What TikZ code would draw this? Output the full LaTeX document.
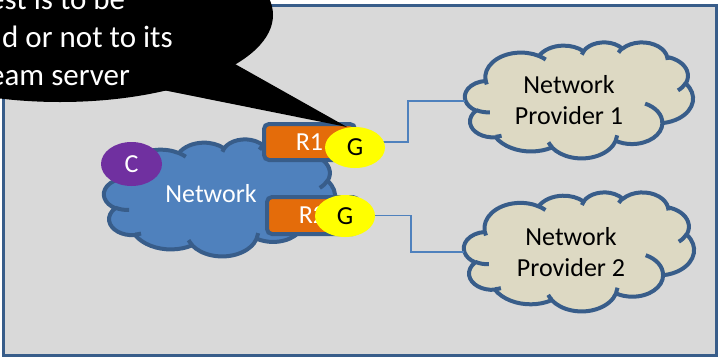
\documentclass[tikz,border=0pt]{standalone}
\usepackage{fontspec}
\setmainfont{Carlito}
\usetikzlibrary{shapes.geometric}
\definecolor{bgfill}{HTML}{D9D9D9}
\definecolor{bord}{HTML}{385D8A}
\definecolor{netblue}{HTML}{4F81BD}
\definecolor{beige}{HTML}{DDD9C3}
\definecolor{orng}{HTML}{E46C0A}
\definecolor{purp}{HTML}{7030A0}
\definecolor{yell}{HTML}{FFFF00}
\pgfmathdeclarefunction{vistopar}{3}{%
  \begingroup\pgfmathparse{atan2((#1)*sin(#3),(#2)*cos(#3))}\pgfmathsmuggle\pgfmathresult\endgroup}
% Office-style cloud: #1 left, #2 top, #3 width, #4 height, #5 style
\newcommand\officecloud[5]{%
  \pgfmathsetmacro\ocx{#3/100}%
  \pgfmathsetmacro\ocy{#4/100}%
  \draw[#5] ({#1+9.028*\ocx},{#2+33.264*\ocy})
    \foreach \rwa/\rha/\sta/\swa in {15.632/21.273/-190.4875/123.7805,
      12.345/16.822/-144.1024/89.9452, 10.104/13.762/-145.8079/99.7230,
      11.243/15.266/-130.9861/117.2417, 12.345/16.836/-78.7089/109.0269,
      15.683/21.343/-46.2673/130.2690, 13.391/18.211/0.6250/114.0333,
      15.630/21.331/22.4516/115.1726, 17.870/24.405/66.2426/75.7110,
      10.093/13.699/-274.9421/146.7356, 10.058/13.762/-246.8285/152.5189}{
      arc[start angle={-vistopar(\rwa,\rha,\sta)},
          delta angle={-mod(vistopar(\rwa,\rha,\sta+\swa)-vistopar(\rwa,\rha,\sta)+720,360)},
          x radius={\rwa*\ocx*1pt}, y radius={\rha*\ocy*1pt}]
    } -- cycle;
  \draw[#5, fill=none]
    \foreach \pxa/\pya/\rwa/\rha/\sta/\swa in {10.863/60.595/10.058/13.762/86.742/26.4295,
      16.037/80.785/10.093/13.699/73.6105/11.4475,
      38.144/90.486/15.630/21.331/137.6242/14.0811,
      66.729/80.442/15.630/21.331/6.4533/15.9984,
      79.002/53.134/13.391/18.211/-70.2924/70.9174,
      96.755/35.542/12.345/16.836/30.3180/27.7515,
      88.713/12.560/11.243/15.266/-13.7443/14.8589,
      67.310/9.148/11.243/15.266/-149.1815/18.1954,
      51.252/10.926/10.104/13.762/-163.4943/17.6864,
      32.407/12.019/15.632/21.273/-66.7070/12.3194,
      9.553/36.549/15.632/21.273/157.6544/11.8539}{
      ({#1+\pxa*\ocx},{#2+\pya*\ocy})
      arc[start angle={-vistopar(\rwa,\rha,\sta)},
          delta angle={-mod(vistopar(\rwa,\rha,\sta+\swa)-vistopar(\rwa,\rha,\sta)+720,360)},
          x radius={\rwa*\ocx*1pt}, y radius={\rha*\ocy*1pt}]
    };
}
\tikzset{
  cloudline/.style={draw=bord, line width=4pt, line join=round},
  rbox/.style={draw=bord, line width=4pt, fill=orng, rounded corners=5pt,
    minimum width=91pt, inner sep=0pt, text=white},
  gnode/.style={ellipse, fill=yell, minimum width=60pt, minimum height=41pt, inner sep=0pt},
  conn/.style={draw=netblue, line width=1.5pt},
  lbl/.style={font=\fontsize{26}{31}\selectfont, inner sep=0pt}
}
\begin{document}
\begin{tikzpicture}[x=1pt,y=-1pt]
\useasboundingbox (0,0) rectangle (719,357);
\clip (0,0) rectangle (719,357);
% background panel
\draw[line width=3pt, draw=bord, fill=bgfill] (3.5,5.5) rectangle (716.5,355);
% central network cloud
\officecloud{104}{139}{231}{117}{cloudline, fill=netblue}
\node[lbl, text=white] (net) at (211,194) {Network};
\node[lbl, ellipse, fill=purp, text=white, minimum width=61pt, minimum height=44pt] (C) at (131.5,164) {C};
% routers
\node[rbox, lbl, minimum height=36pt] (R1) at (309.5,142) {R1};
\node[rbox, lbl, minimum height=37pt] (R2) at (312.5,215.5) {R2};
% provider clouds
\officecloud{465}{42}{228}{116}{cloudline, fill=beige}
\officecloud{464}{192}{230}{119}{cloudline, fill=beige}
\node[lbl, align=center] (np1) at (569,100) {Network\\Provider 1};
\node[lbl, align=center] (np2) at (571,252.5) {Network\\Provider 2};
\coordinate (np1w) at (465,101);
\coordinate (np2w) at (464,252);
% connectors
\draw[conn] (R1.east) -- ++(51,0) |- (np1w);
\draw[conn] (R2.east) -- ++(51,0) |- (np2w);
% callout
\fill[black] (60,15) ellipse[x radius=213, y radius=87];
\fill[black] (163,90) -- (347,127) -- (235,64) -- (200,40) -- cycle;
\node[font=\fontsize{31}{38}\selectfont, text=white, align=left, anchor=base west, inner sep=0pt] (callout) at (-11,85) {est is to be\\\hspace*{13pt}d or not to its\\eam server};
% gateways
\node[gnode, lbl] (G1) at (355,147.5) {G};
\node[gnode, lbl, minimum height=42pt] (G2) at (345,216) {G};
\end{tikzpicture}
\end{document}
